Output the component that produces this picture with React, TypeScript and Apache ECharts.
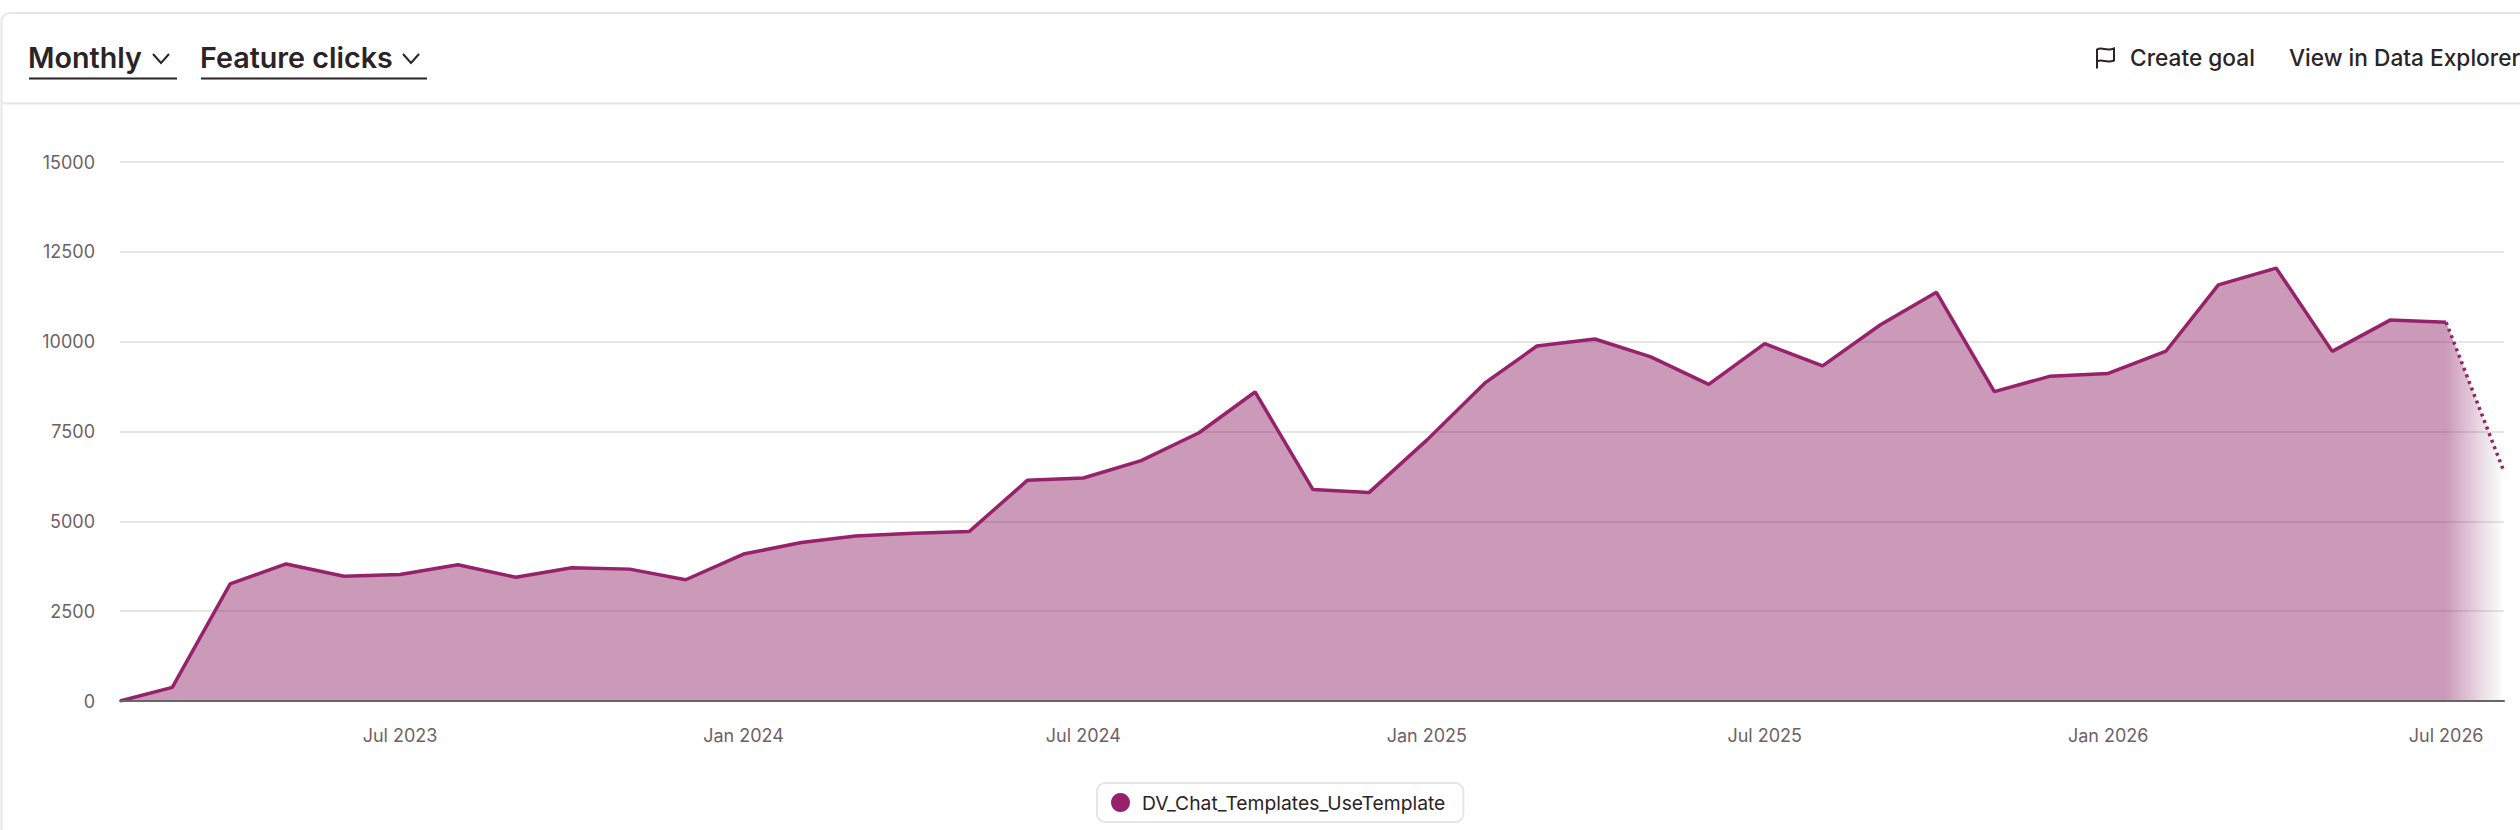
import React, { useEffect, useRef } from "react";
import * as echarts from "echarts";

const seriesName = "DV_Chat_Templates_UseTemplate";
const forecastName = "Forecast";
const months = [
  "2023-02-01","2023-03-01","2023-04-01","2023-05-01","2023-06-01","2023-07-01","2023-08-01","2023-09-01","2023-10-01","2023-11-01","2023-12-01",
  "2024-01-01","2024-02-01","2024-03-01","2024-04-01","2024-05-01","2024-06-01","2024-07-01","2024-08-01","2024-09-01","2024-10-01","2024-11-01","2024-12-01",
  "2025-01-01","2025-02-01","2025-03-01","2025-04-01","2025-05-01","2025-06-01","2025-07-01","2025-08-01","2025-09-01","2025-10-01","2025-11-01","2025-12-01",
  "2026-01-01","2026-02-01","2026-03-01","2026-04-01","2026-05-01","2026-06-01","2026-07-01",
];
const clicks = [
  0,380,3260,3815,3470,3520,3790,3445,3710,3670,3375,
  4090,4410,4590,4665,4720,6140,6205,6690,7465,8600,5885,5800,
  7260,8845,9880,10075,9575,8810,9945,9325,10470,11375,8610,9040,
  9115,9740,11580,12045,9730,10600,10540,
];
const forecastMonths = ["2026-07-01", "2026-08-01"];
const forecastClicks = [10540, 6380];
const xTickDates = ["2023-07-01","2024-01-01","2024-07-01","2025-01-01","2025-07-01","2026-01-01","2026-07-01"];
const monthNames = ["Jan","Feb","Mar","Apr","May","Jun","Jul","Aug","Sep","Oct","Nov","Dec"];
const FONT = "Inter";
const LINE = "#96226B";
const INK = "#2B2325";
const MUTED = "#6F5F67";
const RULE = "#E8E6E5";
const fillRGB = "140,32,98";

const ts = (s: string) => {
  const [y, m, d] = s.split("-").map(Number);
  return Date.UTC(y, m - 1, d);
};

echarts.graphic.registerShape(
  "flagIcon",
  echarts.graphic.extendPath("M1 21V2C6 -1 10 4 18 1V13C10 16 6 11 1 14", {})
);

function label(text: string, x: number, size: number, weight: number) {
  return {
    type: "text",
    x,
    y: 57,
    style: { text, fontFamily: FONT, fontSize: size, fontWeight: weight, fill: INK, align: "left", verticalAlign: "middle" },
  };
}
function chevron(x: number) {
  return {
    type: "polyline",
    shape: { points: [[x, 54], [x + 8, 63], [x + 16, 54]] },
    style: { stroke: INK, lineWidth: 2, fill: "none" },
  };
}
function underline(x1: number, x2: number) {
  return {
    type: "line",
    shape: { x1, y1: 78.5, x2, y2: 78.5 },
    style: { stroke: INK, lineWidth: 2 },
  };
}

export default function App() {
  const ref = useRef<HTMLDivElement>(null);
  useEffect(() => {
    const chart = echarts.init(ref.current!, undefined, { renderer: "svg" });
    chart.setOption({
      animation: false,
      backgroundColor: "#fff",
      grid: { left: 120, right: 16, top: 162, height: 539, containLabel: false },
      xAxis: {
        type: "value",
        z: 5,
        min: ts("2023-02-01"),
        max: ts("2026-08-01"),
        axisLine: { show: true, lineStyle: { color: "#666", width: 2 } },
        axisTick: { show: false },
        splitLine: { show: false },
        axisLabel: {
          customValues: xTickDates.map(ts),
          formatter: (v: number) => {
            const d = new Date(v);
            return `${monthNames[d.getUTCMonth()]} ${d.getUTCFullYear()}`;
          },
          color: MUTED,
          fontFamily: FONT,
          fontSize: 18,
          margin: 25,
          hideOverlap: false,
          showMinLabel: true,
          showMaxLabel: true,
        },
      },
      yAxis: {
        type: "value",
        min: 0,
        max: 15000,
        interval: 2500,
        axisLine: { show: false },
        axisTick: { show: false },
        splitLine: { lineStyle: { color: RULE, width: 2 } },
        axisLabel: { color: MUTED, fontFamily: FONT, fontSize: 18, margin: 25, formatter: (v: number) => String(v) },
      },
      legend: {
        data: [seriesName],
        left: 1097,
        top: 783,
        padding: [10, 18, 10, 14],
        itemWidth: 33,
        itemHeight: 19,
        icon: "circle",
        selectedMode: false,
        borderColor: RULE,
        borderWidth: 2,
        borderRadius: 8,
        textStyle: { color: INK, fontFamily: FONT, fontSize: 19.3 },
      },
      series: [
        {
          name: seriesName,
          type: "line",
          data: months.map((m, i) => [ts(m), clicks[i]]),
          symbol: "none",
          itemStyle: { color: LINE },
          lineStyle: { color: LINE, width: 3.5 },
          areaStyle: { color: `rgba(${fillRGB},0.455)`, opacity: 1 },
        },
        {
          name: forecastName,
          type: "line",
          data: forecastMonths.map((m, i) => [ts(m), forecastClicks[i]]),
          symbol: "none",
          itemStyle: { color: LINE },
          lineStyle: { color: LINE, width: 3.5, type: [3, 4] },
          areaStyle: {
            opacity: 1,
            color: {
              type: "linear",
              x: 0, y: 0, x2: 1, y2: 0,
              colorStops: [
                { offset: 0, color: `rgba(${fillRGB},0.455)` },
                { offset: 0.25, color: `rgba(${fillRGB},0.33)` },
                { offset: 0.55, color: `rgba(${fillRGB},0.19)` },
                { offset: 0.8, color: "rgba(110,90,100,0.1)" },
                { offset: 1, color: "rgba(110,90,100,0)" },
              ],
            },
          },
        },
      ],
      graphic: [
        { type: "rect", z: -1, shape: { x: 1.5, y: 13, width: 2700, height: 1000, r: 8 }, style: { fill: "none", stroke: RULE, lineWidth: 2 } },
        { type: "line", shape: { x1: 1, y1: 103.5, x2: 2520, y2: 103.5 }, style: { stroke: RULE, lineWidth: 2 } },
        label("Monthly", 28, 28.7, 600),
        chevron(153),
        underline(29, 177),
        label("Feature clicks", 200, 28.7, 600),
        chevron(403),
        underline(201, 427),
        { type: "flagIcon", x: 2096, y: 47.5, style: { fill: "none", stroke: INK, lineWidth: 2 } },
        label("Create goal", 2130, 22.7, 500),
        label("View in Data Explorer", 2289, 22.7, 500),
      ],
    });
    return () => chart.dispose();
  }, []);
  return <div ref={ref} style={{ position: "fixed", left: 0, top: 0, width: 2520, height: 830, background: "#fff" }} />;
}
